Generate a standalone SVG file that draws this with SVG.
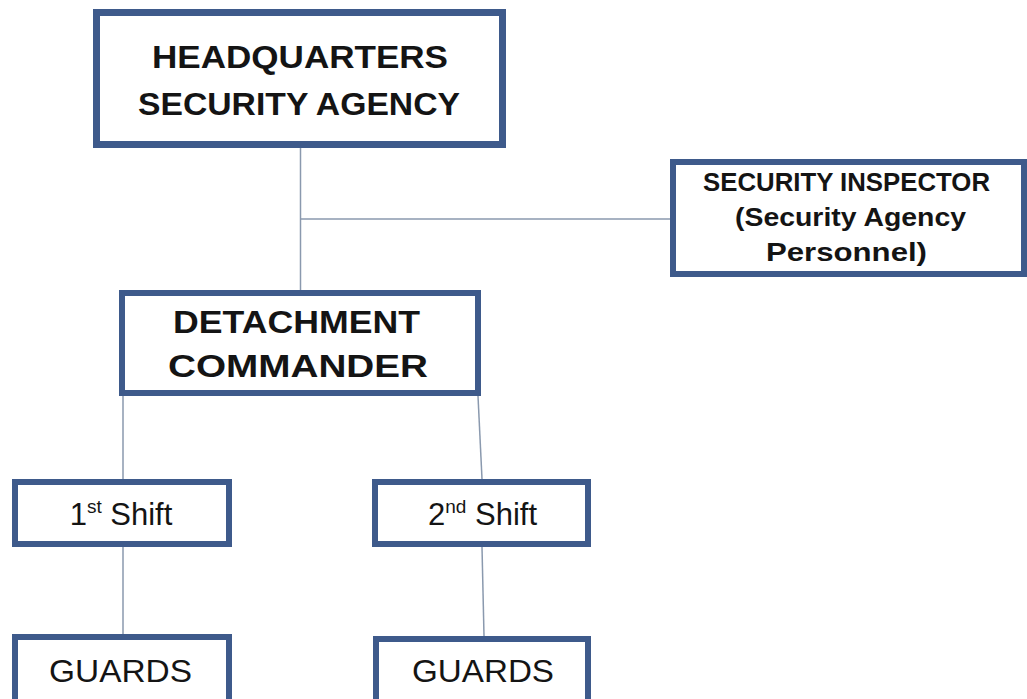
<svg xmlns="http://www.w3.org/2000/svg" width="1027" height="699" viewBox="0 0 1027 699">
<style>
.box{fill:#ffffff;stroke:#3e5a8b;stroke-width:6}
.conn{stroke:#8a99ae;stroke-width:1.5;fill:none}
.b{font-family:"Liberation Sans",Arial,sans-serif;font-weight:bold;fill:#141414;text-anchor:middle}
.r{font-family:"Liberation Sans",Arial,sans-serif;fill:#141414;text-anchor:middle}
</style>
<rect width="1027" height="699" fill="#ffffff"/>
<g id="connectors">
<line class="conn" x1="300.5" y1="148" x2="300.5" y2="290"/>
<line class="conn" x1="300.5" y1="219" x2="670" y2="219"/>
<line class="conn" x1="123" y1="396" x2="123" y2="479"/>
<line class="conn" x1="478" y1="396" x2="482" y2="479"/>
<line class="conn" x1="123" y1="547" x2="123" y2="634"/>
<line class="conn" x1="482" y1="547" x2="484" y2="636"/>
</g>
<g id="hq">
<rect class="box" x="96.5" y="12.5" width="406" height="132" style="stroke-width:7"/>
<text class="b" x="300" y="68" font-size="32" textLength="296" lengthAdjust="spacingAndGlyphs">HEADQUARTERS</text>
<text class="b" x="299" y="115" font-size="32" textLength="322" lengthAdjust="spacingAndGlyphs">SECURITY AGENCY</text>
</g>
<g id="inspector">
<rect class="box" x="673" y="162" width="351" height="112"/>
<text class="b" x="846.5" y="191" font-size="25" textLength="287" lengthAdjust="spacingAndGlyphs">SECURITY INSPECTOR</text>
<text class="b" x="850.5" y="226" font-size="25" textLength="231" lengthAdjust="spacingAndGlyphs">(Security Agency</text>
<text class="b" x="846.5" y="261" font-size="25" textLength="161" lengthAdjust="spacingAndGlyphs">Personnel)</text>
</g>
<g id="commander">
<rect class="box" x="122" y="293" width="356" height="100"/>
<text class="b" x="296.5" y="333" font-size="32" textLength="247" lengthAdjust="spacingAndGlyphs">DETACHMENT</text>
<text class="b" x="298" y="377" font-size="32" textLength="260" lengthAdjust="spacingAndGlyphs">COMMANDER</text>
</g>
<g id="shift1">
<rect class="box" x="15" y="482" width="214" height="62"/>
<text class="r" x="121" y="525" font-size="31">1<tspan font-size="19" dy="-12">st</tspan><tspan dy="12"> Shift</tspan></text>
</g>
<g id="shift2">
<rect class="box" x="375" y="482" width="213" height="62"/>
<text class="r" x="482.5" y="525" font-size="31">2<tspan font-size="19" dy="-12">nd</tspan><tspan dy="12"> Shift</tspan></text>
</g>
<g id="guards1">
<rect class="box" x="15" y="637" width="214" height="80"/>
<text class="r" x="120.5" y="682" font-size="31" textLength="143" lengthAdjust="spacingAndGlyphs">GUARDS</text>
</g>
<g id="guards2">
<rect class="box" x="376" y="639" width="212" height="80"/>
<text class="r" x="483" y="682" font-size="31" textLength="142" lengthAdjust="spacingAndGlyphs">GUARDS</text>
</g>
</svg>
